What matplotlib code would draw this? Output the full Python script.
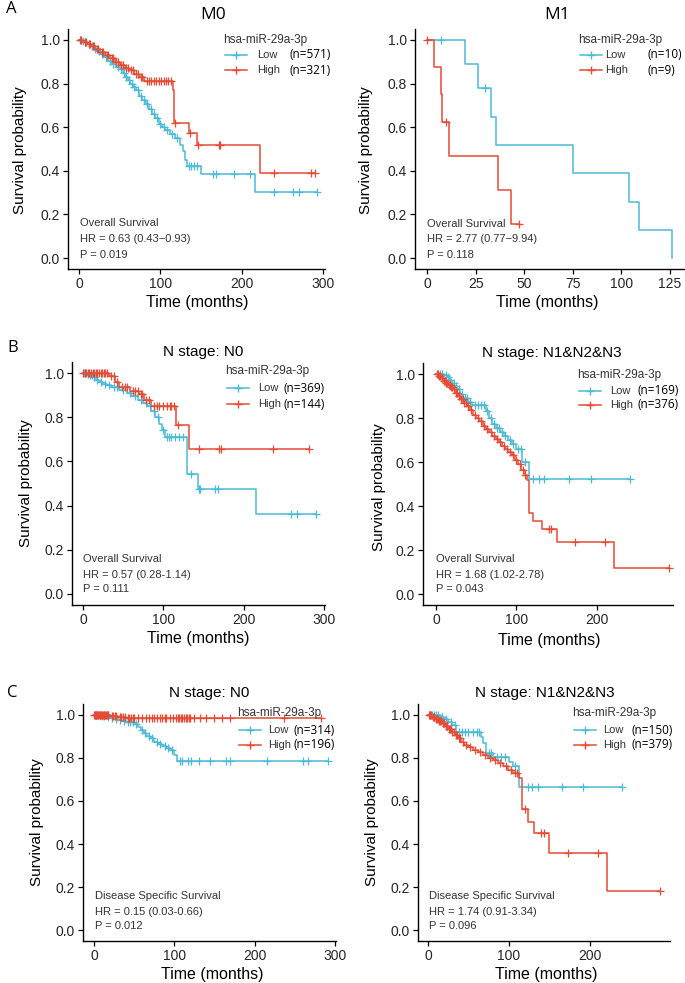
import numpy as np
import matplotlib.pyplot as plt
from matplotlib.lines import Line2D

W, H = 685, 983
LOW_C = '#4DBBD5'
HIGH_C = '#E64B35'
plt.rcParams['font.family'] = ['Liberation Sans', 'DejaVu Sans']

# ---- A: M0 ----
a0_low_t = [3, 6, 10, 14, 18, 22, 26, 30, 35, 40, 45, 50, 54, 57, 60, 63, 66, 70, 74, 78, 82, 86, 90,
            94, 98, 102, 106, 112, 118, 124, 128, 130, 133, 150, 216]
a0_low_s = [0.995, 0.99, 0.98, 0.97, 0.96, 0.95, 0.935, 0.92, 0.905, 0.89, 0.875, 0.865, 0.85, 0.83,
            0.815, 0.80, 0.785, 0.77, 0.745, 0.725, 0.705, 0.685, 0.66, 0.64, 0.615, 0.60, 0.585, 0.57,
            0.55, 0.52, 0.49, 0.45, 0.42, 0.385, 0.305]
a0_low_c = [2, 5, 8, 12, 16, 20, 25, 28, 33, 38, 42, 48, 52, 55, 58, 62, 65, 68, 72, 76, 80, 84, 88,
            92, 96, 100, 104, 108, 114, 120, 135, 138, 141, 145, 165, 168, 190, 210, 240, 263, 270, 293]
a0_high_t = [5, 10, 15, 20, 26, 32, 38, 44, 50, 56, 62, 68, 74, 80, 116, 117, 135, 145, 222]
a0_high_s = [0.99, 0.98, 0.97, 0.96, 0.945, 0.93, 0.915, 0.90, 0.885, 0.87, 0.86, 0.845, 0.83, 0.81,
             0.77, 0.62, 0.575, 0.52, 0.39]
a0_high_c = [1, 3, 7, 9, 12, 14, 17, 19, 22, 24, 28, 30, 34, 36, 40, 42, 46, 48, 52, 54, 58, 60, 64,
             66, 70, 72, 76, 78, 84, 86, 88, 92, 95, 98, 101, 104, 107, 110, 113, 118, 137, 146, 172,
             174, 240, 285, 290]

# ---- A: M1 ----
a1_low_t = [19.6, 26.3, 33, 35.7, 75, 104, 109, 126.2]
a1_low_s = [0.889, 0.778, 0.648, 0.519, 0.389, 0.259, 0.130, 0.0]
a1_low_c = [7.4, 30]
a1_high_t = [3.4, 7, 7.9, 11.3, 36.6, 43.4]
a1_high_s = [0.875, 0.75, 0.625, 0.469, 0.3125, 0.156]
a1_high_c = [0, 9.6, 47.2]

# ---- B: N0 ----
b0_low_t = [4, 8, 12, 16, 20, 25, 30, 35, 45, 55, 60, 68, 75, 80, 85, 90, 95, 98, 102, 130, 143, 215]
b0_low_s = [0.995, 0.99, 0.98, 0.97, 0.96, 0.95, 0.945, 0.935, 0.925, 0.91, 0.895, 0.88, 0.865, 0.85,
            0.83, 0.80, 0.77, 0.74, 0.71, 0.545, 0.475, 0.36]
b0_low_c = [1, 3, 6, 9, 11, 14, 18, 22, 27, 32, 38, 42, 50, 58, 65, 72, 78, 83, 88, 93, 100, 104, 107,
            110, 115, 120, 124, 134, 144, 146, 165, 168, 259, 266, 290]
b0_high_t = [32, 40, 45, 58, 70, 76, 85, 116, 132]
b0_high_s = [0.985, 0.96, 0.935, 0.92, 0.905, 0.88, 0.85, 0.765, 0.655]
b0_high_c = [0, 2, 4, 6, 8, 10, 12, 14, 16, 18, 20, 22, 24, 26, 28, 30, 35, 38, 42, 48, 52, 55, 62, 65,
             68, 72, 74, 78, 82, 88, 92, 95, 100, 104, 108, 110, 113, 118, 144, 170, 172, 237, 281]

# ---- B: N1&N2&N3 ----
b1_low_t = [10, 14, 17, 20, 23, 26, 30, 34, 40, 45, 62, 66, 70, 75, 80, 85, 90, 95, 100, 107, 115]
b1_low_s = [0.995, 0.985, 0.975, 0.96, 0.945, 0.93, 0.91, 0.89, 0.875, 0.86, 0.83, 0.80, 0.775, 0.755,
            0.735, 0.72, 0.70, 0.68, 0.66, 0.60, 0.525]
b1_low_c = [2, 5, 8, 12, 15, 18, 22, 25, 28, 32, 36, 38, 42, 48, 52, 56, 60, 64, 68, 72, 76, 78, 82,
            86, 92, 96, 102, 105, 110, 121, 128, 134, 165, 192, 241]
b1_high_t = [3, 6, 9, 12, 15, 18, 21, 24, 27, 30, 34, 38, 42, 46, 50, 54, 58, 62, 66, 70, 74, 78, 82,
             86, 90, 94, 98, 102, 106, 110, 113, 115, 121, 131.6, 150, 221.6]
b1_high_s = [0.99, 0.98, 0.97, 0.96, 0.95, 0.94, 0.93, 0.915, 0.90, 0.885, 0.87, 0.855, 0.835, 0.815,
             0.80, 0.785, 0.765, 0.75, 0.735, 0.72, 0.705, 0.69, 0.675, 0.66, 0.645, 0.63, 0.61, 0.59,
             0.565, 0.54, 0.52, 0.37, 0.333, 0.295, 0.238, 0.117]
b1_high_c = [1, 2, 4, 5, 7, 8, 10, 11, 13, 14, 16, 17, 19, 20, 22, 23, 25, 26, 28, 29, 31, 33, 35, 37,
             40, 44, 48, 52, 56, 60, 64, 68, 72, 76, 80, 84, 88, 92, 96, 100, 104, 108, 111, 140, 143,
             173, 210, 289]

# ---- C: N0 ----
c0_low_t = [8, 15, 20, 25, 30, 35, 40, 50, 55, 58, 62, 65, 70, 75, 80, 85, 90, 95, 100, 103]
c0_low_s = [0.995, 0.99, 0.985, 0.98, 0.975, 0.97, 0.965, 0.955, 0.945, 0.93, 0.915, 0.90, 0.89, 0.875,
            0.865, 0.855, 0.845, 0.835, 0.815, 0.786]
c0_low_c = [1, 3, 5, 10, 12, 17, 22, 27, 32, 37, 42, 45, 48, 52, 60, 64, 68, 72, 78, 82, 88, 92, 97,
            107, 110, 117, 121, 131, 145, 165, 169, 215, 260, 267, 292]
c0_high_t = [20, 30, 40]
c0_high_s = [0.995, 0.99, 0.984]
c0_high_c = [0, 1, 2, 3, 4, 5, 6, 7, 8, 9, 10, 11, 12, 13, 14, 15, 16, 17, 18, 22, 24, 26, 28, 32, 34,
             36, 38, 42, 44, 46, 48, 50, 55, 60, 65, 68, 72, 75, 78, 82, 85, 88, 90, 95, 98, 102, 104,
             106, 108, 110, 112, 114, 116, 118, 120, 125, 132, 140, 150, 160, 170, 237, 283]

# ---- C: N1&N2&N3 ----
c1_low_t = [15, 20, 25, 30, 35, 65, 68, 72, 80, 100, 105, 113]
c1_low_s = [0.99, 0.98, 0.965, 0.953, 0.922, 0.899, 0.868, 0.822, 0.806, 0.783, 0.76, 0.667]
c1_low_c = [2, 5, 8, 10, 12, 17, 22, 28, 33, 38, 42, 46, 50, 55, 60, 63, 75, 78, 85, 90, 95, 108, 124,
            128, 136, 165, 192, 239]
c1_high_t = [5, 9, 13, 17, 21, 25, 29, 33, 37, 41, 45, 50, 56, 62, 68, 74, 80, 86, 93, 99, 105, 113,
             115.5, 124, 131, 150, 220.6]
c1_high_s = [0.99, 0.98, 0.97, 0.96, 0.95, 0.935, 0.92, 0.905, 0.89, 0.875, 0.86, 0.85, 0.837, 0.825,
             0.814, 0.80, 0.79, 0.775, 0.76, 0.745, 0.729, 0.705, 0.561, 0.504, 0.453, 0.36, 0.183]
c1_high_c = [1, 2, 3, 4, 6, 7, 8, 10, 11, 12, 14, 15, 16, 18, 19, 20, 22, 23, 24, 26, 27, 28, 30, 32,
             34, 36, 38, 40, 43, 47, 52, 58, 64, 70, 77, 83, 89, 96, 102, 108, 110, 120, 140, 143, 173,
             210, 287]

titles = ['M0', 'M1', 'N stage: N0', 'N stage: N1&N2&N3', 'N stage: N0', 'N stage: N1&N2&N3']
n_low = [571, 10, 369, 169, 314, 150]
n_high = [321, 9, 144, 376, 196, 379]
endpoints = ['Overall Survival'] * 4 + ['Disease Specific Survival'] * 2
hr_text = ['HR = 0.63 (0.43\u22120.93)', 'HR = 2.77 (0.77\u22129.94)', 'HR = 0.57 (0.28-1.14)',
           'HR = 1.68 (1.02-2.78)', 'HR = 0.15 (0.03-0.66)', 'HR = 1.74 (0.91-3.34)']
p_text = ['P = 0.019', 'P = 0.118', 'P = 0.111', 'P = 0.043', 'P = 0.012', 'P = 0.096']
curves = [
    (a0_low_t, a0_low_s, a0_low_c, a0_high_t, a0_high_s, a0_high_c),
    (a1_low_t, a1_low_s, a1_low_c, a1_high_t, a1_high_s, a1_high_c),
    (b0_low_t, b0_low_s, b0_low_c, b0_high_t, b0_high_s, b0_high_c),
    (b1_low_t, b1_low_s, b1_low_c, b1_high_t, b1_high_s, b1_high_c),
    (c0_low_t, c0_low_s, c0_low_c, c0_high_t, c0_high_s, c0_high_c),
    (c1_low_t, c1_low_s, c1_low_c, c1_high_t, c1_high_s, c1_high_c),
]

# layout in pixels: axes box (l, t, r, b), xlim, xticks, title pos, xlabel pos, ylabel pos,
# legend (title x, title y, row1 y, row2 y, label x, n x), stats text (x, y1, y2, y3)
layout = [
    dict(box=(68, 29, 325, 269), xlim=(-13.5, 302.5), xt=[0, 100, 200, 300], title=(213, 15),
         xl=(197, 303), yl=(20, 150), leg=(223, 40, 55, 70, 257, 290), st=(80, 223, 239, 255)),
    dict(box=(415, 29, 684, 269), xlim=(-6.2, 132.2), xt=[0, 25, 50, 75, 100, 125], title=(557, 15),
         xl=(547, 303), yl=(366, 150), leg=(578, 40, 55, 70, 605, 648), st=(427, 224, 239, 255)),
    dict(box=(72, 362, 325, 605), xlim=(-13.7, 301.4), xt=[0, 100, 200, 300], title=(203, 352),
         xl=(198, 638), yl=(26, 483), leg=(225, 371, 388, 404, 258, 284), st=(83, 559, 575, 589)),
    dict(box=(423, 363, 673, 605), xlim=(-16.1, 294.4), xt=[0, 100, 200], title=(552, 353),
         xl=(549, 640), yl=(379, 487), leg=(577, 375, 391, 405, 610, 638), st=(436, 559, 575, 589)),
    dict(box=(83, 704, 336, 941), xlim=(-13.7, 301.4), xt=[0, 100, 200, 300], title=(209, 693),
         xl=(212, 975), yl=(37, 822), leg=(237, 713, 730, 745, 268, 293), st=(95, 896, 912, 926)),
    dict(box=(418, 704, 670, 941), xlim=(-12.3, 298.8), xt=[0, 100, 200], title=(545, 693),
         xl=(546, 975), yl=(372, 822), leg=(572, 713, 730, 745, 603, 632), st=(429, 896, 912, 926)),
]

fig = plt.figure(figsize=(W / 100, H / 100), dpi=100)


def px(x, y):
    return x / W, 1 - y / H


def draw_km(ax, t, s, cens, color):
    end = max(t[-1], max(cens))
    xs = np.r_[0, t, end]
    ys = np.r_[1, s, s[-1]]
    ax.step(xs, ys, where='post', color=color, lw=1.1, zorder=3)
    cy = np.r_[1, s][np.searchsorted(t, cens, side='right')]
    ax.plot(cens, cy, ls='none', marker='+', ms=5.5, mew=0.9, color=color, zorder=4)


for i, lay in enumerate(layout):
    l, t, r, b = lay['box']
    ax = fig.add_axes([l / W, 1 - b / H, (r - l) / W, (b - t) / H])
    lt, ls_, lc, ht, hs, hc = curves[i]
    draw_km(ax, lt, ls_, lc, LOW_C)
    draw_km(ax, ht, hs, hc, HIGH_C)
    ax.set_xlim(*lay['xlim'])
    ax.set_ylim(-0.05, 1.05)
    ax.set_xticks(lay['xt'])
    ax.set_yticks([0, 0.2, 0.4, 0.6, 0.8, 1.0])
    ax.set_yticklabels(['0.0', '0.2', '0.4', '0.6', '0.8', '1.0'])
    for sp in ['top', 'right']:
        ax.spines[sp].set_visible(False)
    for sp in ['left', 'bottom']:
        ax.spines[sp].set_linewidth(1.0)
    ax.tick_params(length=3.5, width=0.9, labelsize=10, pad=2.5, labelcolor='#262626')

    # titles and axis labels
    if i < 2:
        fig.text(*px(*lay['title']), titles[i], ha='center', va='center', fontsize=12.5,
                 family='Open Sans')
    else:
        fig.text(*px(*lay['title']), titles[i], ha='center', va='center', fontsize=11)
    fig.text(*px(*lay['xl']), 'Time (months)', ha='center', va='center', fontsize=11.5)
    fig.text(*px(*lay['yl']), 'Survival probability', ha='center', va='center', fontsize=11,
             rotation=90)

    # legend
    gx, gy, y1, y2, lx, nx = lay['leg']
    fig.text(*px(gx, gy), 'hsa-miR-29a-3p', ha='left', va='center', fontsize=8.5, color='#333333')
    for yy, col, lab, n in [(y1, LOW_C, 'Low', n_low[i]), (y2, HIGH_C, 'High', n_high[i])]:
        x0, yf = px(gx + 2, yy)
        x1, _ = px(gx + 24, yy)
        fig.add_artist(Line2D([x0, x1], [yf, yf], color=col, lw=1.1))
        fig.add_artist(Line2D([(x0 + x1) / 2], [yf], color=col, marker='+', ms=6, mew=1.0))
        fig.text(*px(lx, yy), lab, ha='left', va='center', fontsize=8, color='#333333')
        fig.text(*px(nx, yy), '(n=%d)' % n, ha='left', va='center', fontsize=8.5,
                 family='Open Sans', color='black')

    # stats text
    sx, s1, s2, s3 = lay['st']
    for yy, txt in zip([s1, s2, s3], [endpoints[i], hr_text[i], p_text[i]]):
        fig.text(*px(sx, yy), txt, ha='left', va='center', fontsize=8, color='#333333')

for lab, (x, y) in zip(['A', 'B', 'C'], [(6, 9), (7, 348), (7, 693)]):
    fig.text(*px(x, y), lab, ha='left', va='center', fontsize=12, family='Open Sans')

fig.savefig('out.png', dpi=100)
